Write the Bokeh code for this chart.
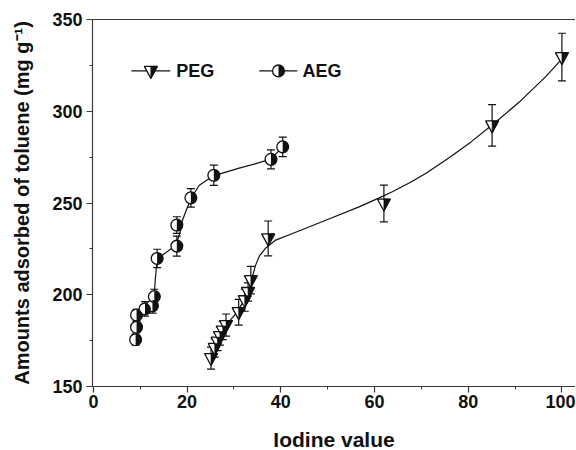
import numpy as np
from bokeh.plotting import figure
from bokeh.models import ColumnDataSource, Whisker, TeeHead, LinearAxis, FixedTicker, Range1d
from bokeh.core.properties import value
from bokeh.embed import file_html
from bokeh.resources import INLINE

# ---------------- data ----------------
series_names = ["PEG", "AEG"]

peg_x = [25.1, 25.9, 26.5, 27.0, 27.6, 28.3, 31.0, 32.3, 33.0, 33.6, 37.3, 62.0, 85.1, 100.0]
peg_y = [165.5, 171.0, 174.5, 177.5, 180.5, 183.5, 190.5, 197.0, 201.5, 208.0, 230.7, 249.7, 292.3, 329.5]
peg_err = [6.0, 5.0, 5.0, 5.0, 5.0, 6.0, 7.0, 6.0, 5.0, 7.5, 9.5, 10.0, 11.3, 13.0]

aeg_x = [9.0, 9.2, 9.2, 11.0, 12.6, 13.0, 13.6, 17.8, 17.8, 20.8, 25.7, 37.9, 40.4]
aeg_y = [175.5, 182.3, 189.0, 192.3, 194.0, 199.0, 219.8, 226.5, 238.0, 252.8, 265.1, 273.8, 280.6]
aeg_err = [3.0, 3.0, 3.0, 4.0, 4.0, 4.0, 5.0, 5.5, 4.5, 5.0, 5.5, 5.2, 5.3]

# smooth fitted curves as drawn in the reference
peg_curve_x = [25.1, 26.5, 28.3, 30.5, 32.3, 33.3, 34.0, 34.6, 35.4, 36.8, 38.9, 42.5, 49.6,
               56.7, 61.0, 63.8, 67.5, 71.0, 76.0, 80.6, 85.1, 90.9, 96.6, 100.0]
peg_curve_y = [166.0, 174.5, 183.5, 190.0, 197.5, 204.0, 210.5, 216.0, 221.0, 225.5, 229.8, 233.4, 240.6,
               247.9, 252.8, 256.1, 261.0, 266.2, 274.8, 283.3, 292.5, 305.0, 319.0, 328.5]

aeg_curve_x = [9.0, 9.2, 10.3, 11.8, 12.9, 13.2, 13.6, 15.5, 17.6, 18.5, 19.0, 20.8, 22.6,
               25.6, 31.1, 35.4, 37.9, 40.4]
aeg_curve_y = [175.5, 186.0, 191.0, 193.5, 197.0, 208.0, 219.5, 223.0, 227.0, 234.0, 240.6, 252.5,
               259.7, 264.8, 269.0, 272.0, 274.0, 280.6]

x_ticks = [0, 20, 40, 60, 80, 100]
y_ticks = [150, 200, 250, 300, 350]

# ---------------- layout / style ----------------
FONT = "Liberation Sans"
X0, X1 = -0.2, 102.9
Y0, Y1 = 150, 350
FW, FH = 483, 367
INK = "#111111"
AXC = "#3a3a3a"

p = figure(frame_width=FW, frame_height=FH,
           x_range=Range1d(X0, X1), y_range=Range1d(Y0, Y1),
           output_backend="svg", toolbar_location=None,
           min_border=0, min_border_left=92, min_border_right=0,
           min_border_top=19, min_border_bottom=62)
p.background_fill_color = "white"
p.border_fill_color = "white"
p.outline_line_color = None
p.xgrid.visible = False
p.ygrid.visible = False

def mids(t):
    return [(a + b) / 2 for a, b in zip(t[:-1], t[1:])]

p.xaxis.ticker = FixedTicker(ticks=x_ticks, minor_ticks=mids(x_ticks))
p.yaxis.ticker = FixedTicker(ticks=y_ticks, minor_ticks=mids(y_ticks))
p.xaxis.axis_label = "Iodine value"
p.yaxis.axis_label = "Amounts adsorbed of toluene (mg g\u207b\u00b9)"

for ax in (p.xaxis, p.yaxis):
    ax.axis_line_color = AXC
    ax.axis_line_width = 1.2
    ax.major_tick_line_color = AXC
    ax.minor_tick_line_color = AXC
    ax.major_tick_line_width = 1.2
    ax.minor_tick_line_width = 1.0
    ax.major_tick_in = 0
    ax.major_tick_out = 6
    ax.minor_tick_in = 0
    ax.minor_tick_out = 3
    ax.major_label_text_font = FONT
    ax.major_label_text_font_style = "bold"
    ax.major_label_text_font_size = "18px"
    ax.major_label_text_color = INK
    ax.axis_label_text_font = FONT
    ax.axis_label_text_font_style = "bold"
    ax.axis_label_text_color = INK

p.xaxis.axis_label_text_font_size = "21px"
p.yaxis.axis_label_text_font_size = "20px"
p.xaxis.major_label_standoff = 2
p.xaxis.axis_label_standoff = 17
p.yaxis.major_label_standoff = 4
p.yaxis.axis_label_standoff = 16

# top border line
top = LinearAxis(ticker=FixedTicker(ticks=[]), axis_line_color=AXC, axis_line_width=1.2,
                 major_tick_out=0, major_tick_in=0, minor_tick_out=0, minor_tick_in=0,
                 major_label_standoff=0)
p.add_layout(top, "above")

# ---------------- marker helpers ----------------
dxp = (X1 - X0) / FW
dyp = (Y1 - Y0) / FH
TW, TT, TB = 6.5, 4.5, 7.5   # triangle half width, top offset, bottom offset (px)
CR = 5.9                     # circle radius (px)

def peg_markers(xs, ys):
    fx = [[x - TW * dxp, x + TW * dxp, x] for x in xs]
    fy = [[y + TT * dyp, y + TT * dyp, y - TB * dyp] for y in ys]
    hx = [[x, x + TW * dxp, x] for x in xs]
    hy = [[y + TT * dyp, y + TT * dyp, y - TB * dyp] for y in ys]
    p.patches(fx, fy, fill_color="white", line_color=INK, line_width=1.3)
    p.patches(hx, hy, fill_color=INK, line_color=INK, line_width=0.6)

def aeg_markers(xs, ys):
    p.scatter(xs, ys, marker="circle", size=2 * CR, fill_color="white",
              line_color=INK, line_width=1.3)
    p.wedge(xs, ys, radius=CR, radius_units="screen", start_angle=-np.pi / 2,
            end_angle=np.pi / 2, fill_color=INK, line_color=None)

def error_bars(xs, ys, es):
    src = ColumnDataSource(dict(x=xs, lo=[y - e for y, e in zip(ys, es)],
                                hi=[y + e for y, e in zip(ys, es)]))
    w = Whisker(source=src, base="x", lower="lo", upper="hi",
                line_color=INK, line_width=1.2, level="underlay",
                upper_head=TeeHead(size=8, line_color=INK, line_width=1.2),
                lower_head=TeeHead(size=8, line_color=INK, line_width=1.2))
    p.add_layout(w)

# ---------------- draw ----------------
error_bars(peg_x, peg_y, peg_err)
error_bars(aeg_x, aeg_y, aeg_err)

p.line(peg_curve_x, peg_curve_y, line_color=INK, line_width=1.2)
p.line(aeg_curve_x, aeg_curve_y, line_color=INK, line_width=1.2)

peg_markers(peg_x, peg_y)
aeg_markers(aeg_x, aeg_y)

# ---------------- legend (drawn manually, half-filled symbols) ----------------
LEG_Y = 322.0
legend_line_x0 = [8.1, 35.4]
legend_line_x1 = [16.4, 43.5]
legend_mark_x = [12.25, 39.5]
legend_text_x = [17.7, 44.6]

p.segment(x0=legend_line_x0, y0=[LEG_Y] * 2, x1=legend_line_x1, y1=[LEG_Y] * 2,
          line_color=INK, line_width=1.2)
peg_markers([legend_mark_x[0]], [LEG_Y])
aeg_markers([legend_mark_x[1]], [LEG_Y])
p.text(x=legend_text_x, y=[LEG_Y] * 2, text=series_names,
       text_font=value(FONT), text_font_style="bold", text_font_size="18px",
       text_color=INK, text_baseline="middle", text_align="left")

open("out.html", "w").write(file_html(p, INLINE))
